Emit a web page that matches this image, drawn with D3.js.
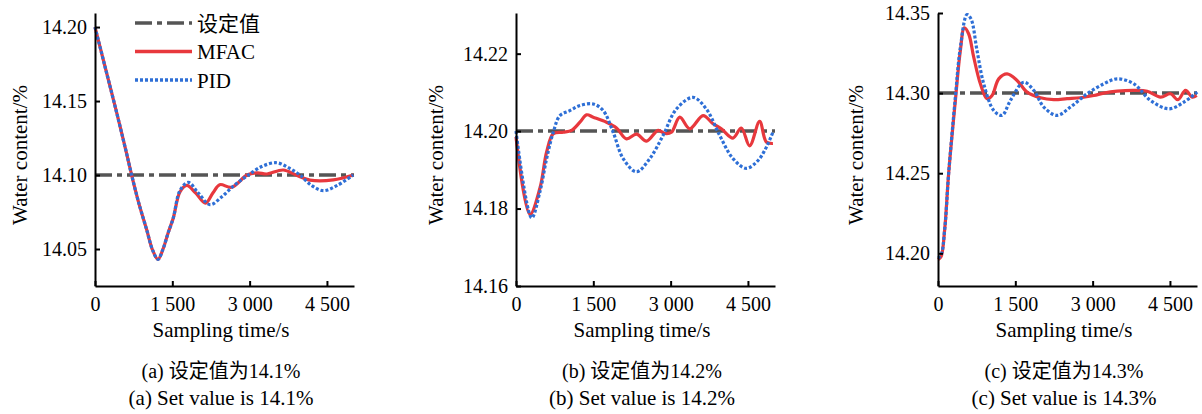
<!DOCTYPE html>
<html>
<head>
<meta charset="utf-8">
<script src="https://cdn.jsdelivr.net/npm/d3@7"></script>
<style>
body{margin:0;background:#fff;}
text{font-family:"Liberation Serif","Times New Roman","Noto Sans CJK SC",serif;fill:#000;}
</style>
</head>
<body>
<svg id="chart"></svg>
<script>
// values
const xTicks=[0,1500,3000,4500];
const seriesNames=["设定值","MFAC","PID"];

// (a) set value 14.1
const setA=14.1;
const yTicksA=[14.05,14.10,14.15,14.20];
const mfacA_t=[0,200,400,600,711,850,1003,1120,1222,1320,1420,1519,1648,1779,1950,2144,2290,2420,2650,2950,3150,3330,3653,3900,4170,4623,5011];
const mfacA_v=[14.200,14.1725,14.145,14.1165,14.100,14.081,14.063,14.049,14.043,14.050,14.061,14.071,14.0885,14.093,14.088,14.081,14.088,14.0935,14.0917,14.100,14.1015,14.1007,14.1034,14.100,14.0966,14.0967,14.100];
const pidA_t=[0,200,400,600,711,850,1003,1120,1222,1320,1420,1519,1648,1810,2000,2230,2450,2700,2974,3250,3524,3750,3976,4200,4429,4700,5011];
const pidA_v=[14.200,14.1725,14.145,14.1165,14.100,14.081,14.063,14.049,14.043,14.050,14.061,14.071,14.0895,14.095,14.088,14.080,14.085,14.093,14.100,14.106,14.1083,14.105,14.100,14.093,14.0894,14.093,14.100];

// (b) set value 14.2
const setB=14.2;
const yTicksB=[14.16,14.18,14.20,14.22];
const mfacB_t=[0,271,465,594,723,917,1078,1240,1369,1498,1756,1950,2144,2338,2531,2757,2886,3015,3177,3370,3629,3823,3984,4210,4371,4533,4727,4856,4985];
const mfacB_v=[14.1985,14.1785,14.1853,14.1946,14.1993,14.1997,14.2002,14.2023,14.2042,14.2036,14.2023,14.2008,14.1980,14.1992,14.1974,14.2002,14.1994,14.1997,14.2036,14.2006,14.2040,14.2019,14.2006,14.1982,14.2008,14.1962,14.2025,14.1972,14.1968];
const pidB_t=[0,303,465,594,723,852,1046,1240,1498,1692,1885,2079,2337,2596,2854,3112,3435,3693,3951,4210,4468,4727,4985];
const pidB_v=[14.2000,14.1776,14.1844,14.1929,14.1997,14.2040,14.2053,14.2066,14.2070,14.2053,14.1997,14.1929,14.1895,14.1929,14.1989,14.2057,14.2087,14.2057,14.1989,14.1929,14.1904,14.1929,14.1997];

// (c) set value 14.3
const setC=14.3;
const yTicksC=[14.20,14.25,14.30,14.35];
const mfacC_t=[0,60,130,207,337,434,511,596,693,822,952,1049,1178,1340,1534,1728,1987,2246,2505,2764,3023,3217,3476,3800,4059,4318,4512,4654,4803,4933,5020];
const mfacC_v=[14.196,14.198,14.215,14.250,14.2954,14.3266,14.3407,14.3369,14.3224,14.3058,14.2965,14.2985,14.3089,14.3120,14.3079,14.3006,14.2971,14.2959,14.2965,14.2971,14.2985,14.3000,14.3012,14.3017,14.3012,14.2975,14.2996,14.2959,14.3017,14.2975,14.2985];
const pidC_t=[0,60,130,207,337,434,563,641,757,887,1081,1243,1405,1664,1858,2052,2311,2570,2894,3217,3476,3800,4124,4480,4771,5030];
const pidC_v=[14.197,14.199,14.215,14.250,14.2975,14.3286,14.3490,14.3463,14.3266,14.3058,14.2892,14.2861,14.2954,14.3068,14.3017,14.2913,14.2861,14.2913,14.2996,14.3058,14.3089,14.3058,14.2954,14.2902,14.2944,14.3006];

const width=1202, height=414;
const svg=d3.select("#chart").attr("width",width).attr("height",height);

// "1 500" style numbers
const fmt=d3.formatLocale({decimal:".",thousands:" ",grouping:[3],currency:["",""]}).format(",");

const colors={set:"#555555",mfac:"#e8383d",pid:"#2e6fd6"};
const dashes={set:"17,5,5,5",mfac:null,pid:"3,2"};

function zip(t,v){ return t.map(function(d,i){return [d,v[i]];}); }

function drawPanel(p){
    const x=d3.scaleLinear().domain([0,5025]).range([p.left,p.left+259]);
    const y=d3.scaleLinear().domain(p.yDomain).range([286,13]);
    const g=svg.append("g");

    const line=d3.line()
        .x(function(d){return x(d[0]);})
        .y(function(d){return y(d[1]);})
        .curve(d3.curveCatmullRom.alpha(0.5));

    // set value line
    g.append("path")
        .attr("d",line([[0,p.set],[5025,p.set]]))
        .attr("fill","none").attr("stroke",colors.set)
        .attr("stroke-width",3.5).attr("stroke-dasharray",dashes.set);
    // MFAC
    g.append("path")
        .attr("d",line(zip(p.mfacT,p.mfacV)))
        .attr("fill","none").attr("stroke",colors.mfac)
        .attr("stroke-width",3.2);
    // PID
    g.append("path")
        .attr("d",line(zip(p.pidT,p.pidV)))
        .attr("fill","none").attr("stroke",colors.pid)
        .attr("stroke-width",3.2).attr("stroke-dasharray",dashes.pid);

    // axes, ticks point inward
    const xa=g.append("g").attr("transform","translate(0,286)")
        .call(d3.axisBottom(x).tickValues(xTicks).tickFormat(fmt)
            .tickSizeInner(-5).tickSizeOuter(0).tickPadding(11));
    const ya=g.append("g").attr("transform","translate("+p.left+",0)")
        .call(d3.axisLeft(y).tickValues(p.yTicks).tickFormat(d3.format(".2f"))
            .tickSizeInner(-5).tickSizeOuter(0).tickPadding(8));
    [xa,ya].forEach(function(a){
        a.attr("font-size",20);
        a.selectAll("path,line").attr("stroke","#000").attr("stroke-width",2);
    });

    g.append("text")
        .attr("transform","translate("+p.yLabelX+",155) rotate(-90)")
        .attr("text-anchor","middle").attr("font-size",21)
        .text("Water content/%");
    g.append("text")
        .attr("x",p.center).attr("y",337)
        .attr("text-anchor","middle").attr("font-size",21)
        .text("Sampling time/s");
    g.append("text")
        .attr("x",p.center).attr("y",378)
        .attr("text-anchor","middle").attr("font-size",20)
        .text(p.cap1);
    g.append("text")
        .attr("x",p.center).attr("y",405)
        .attr("text-anchor","middle").attr("font-size",21)
        .text(p.cap2);
}

drawPanel({left:95,yDomain:[14.025,14.2095],set:setA,yTicks:yTicksA,
    mfacT:mfacA_t,mfacV:mfacA_v,pidT:pidA_t,pidV:pidA_v,
    yLabelX:27,center:221,cap1:"(a) 设定值为14.1%",cap2:"(a) Set value is 14.1%"});
drawPanel({left:516,yDomain:[14.16,14.2305],set:setB,yTicks:yTicksB,
    mfacT:mfacB_t,mfacV:mfacB_v,pidT:pidB_t,pidV:pidB_v,
    yLabelX:443,center:642,cap1:"(b) 设定值为14.2%",cap2:"(b) Set value is 14.2%"});
drawPanel({left:938,yDomain:[14.1796,14.35],set:setC,yTicks:yTicksC,
    mfacT:mfacC_t,mfacV:mfacC_v,pidT:pidC_t,pidV:pidC_v,
    yLabelX:863,center:1064,cap1:"(c) 设定值为14.3%",cap2:"(c) Set value is 14.3%"});

// legend in panel (a)
const legend=svg.append("g").selectAll(".legends")
    .data(seriesNames).enter().append("g").classed("legends",true)
    .attr("transform",function(d,i){return "translate(135,"+(23+i*28.5)+")";});
legend.append("line")
    .attr("x1",0).attr("x2",57)
    .attr("stroke",function(d,i){return [colors.set,colors.mfac,colors.pid][i];})
    .attr("stroke-width",3.5)
    .attr("stroke-dasharray",function(d,i){return [dashes.set,null,dashes.pid][i];});
legend.append("text")
    .attr("x",62).attr("dy","0.36em").attr("font-size",21)
    .text(function(d){return d;});
</script>
</body>
</html>
